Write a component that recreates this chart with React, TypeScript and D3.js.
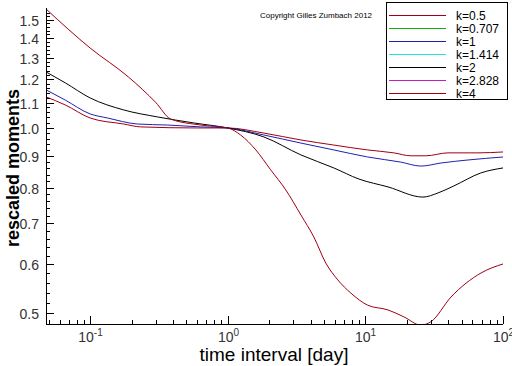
import * as d3 from 'd3';

// time interval [day] and rescaled moment values
const k05T = [0.048, 0.066, 0.1, 0.175, 0.233, 0.6, 1, 1.83, 3.4, 5.9, 10.4, 16.1, 21.4, 27.5, 39.8, 65.8, 100];
const k05V = [1.123, 1.09, 1.038, 1.015, 1.004, 1.0, 1.0, 0.981, 0.956, 0.938, 0.921, 0.911, 0.901, 0.901, 0.911, 0.911, 0.914];

const k1T = [0.048, 0.066, 0.1, 0.134, 0.22, 0.366, 0.637, 1, 1.83, 3.4, 5.9, 10.4, 18.1, 25.3, 35.4, 55.6, 100];
const k1V = [1.153, 1.11, 1.054, 1.038, 1.015, 1.011, 1.004, 1.0, 0.974, 0.945, 0.921, 0.897, 0.88, 0.867, 0.877, 0.887, 0.897];

const k2T = [0.048, 0.066, 0.1, 0.175, 0.31, 0.566, 1, 1.83, 3.4, 5.9, 8.97, 14.6, 26.2, 33.7, 44, 69, 100];
const k2V = [1.233, 1.184, 1.119, 1.07, 1.042, 1.019, 1.0, 0.967, 0.904, 0.861, 0.826, 0.802, 0.772, 0.784, 0.805, 0.845, 0.861];

const k4T = [0.048, 0.1, 0.19, 0.3, 0.385, 0.637, 1, 1.24, 1.6, 2.05, 2.64, 3.4, 4.22, 5.16, 6.31, 7.84, 10.4, 14.6, 19.05, 25.3, 29.9, 41.9, 69.2, 100];
const k4V = [1.56, 1.349, 1.21, 1.1, 1.034, 1.011, 1.0, 0.974, 0.921, 0.855, 0.793, 0.722, 0.665, 0.603, 0.566, 0.539, 0.515, 0.506, 0.493, 0.478, 0.484, 0.531, 0.581, 0.601];

const legendLabels = ['k=0.5', 'k=0.707', 'k=1', 'k=1.414', 'k=2', 'k=2.828', 'k=4'];
const legendColors = ['#a00010', '#10b010', '#2020b0', '#20e0e0', '#000000', '#c020c0', '#a00010'];

const yTickLabels = ['0.5', '0.6', '0.7', '0.8', '0.9', '1.0', '1.1', '1.2', '1.3', '1.4', '1.5'];
const xTickExps = ['-1', '0', '1', '2'];

const series = [
  { t: k05T, v: k05V, color: '#a00010' },
  { t: k1T, v: k1V, color: '#2020b0' },
  { t: k2T, v: k2V, color: '#000000' },
  { t: k4T, v: k4V, color: '#a00010' },
];

const W = 512;
const H = 366;
const plot = { left: 46, right: 503, top: 8, bottom: 324 };
const font = '"Liberation Sans", Arial, sans-serif';

export default function App() {
  const x = d3.scaleLog().domain([0.0478, 100]).range([plot.left, plot.right]);
  const y = d3.scaleLog().domain([0.48, 1.567]).range([plot.bottom, plot.top]);

  const line = d3
    .line<[number, number]>()
    .x((d) => x(d[0]))
    .y((d) => y(d[1]))
    .curve(d3.curveMonotoneX);

  const xMinor: number[] = [];
  for (let e = -2; e <= 1; e++) {
    for (let m = 2; m <= 9; m++) {
      const v = m * Math.pow(10, e);
      if (v >= 0.0478 && v <= 100) xMinor.push(v);
    }
  }
  const yMinor: number[] = [];
  for (let v = 0.5; v <= 1.56; v += 0.02) yMinor.push(+v.toFixed(2));

  return (
    <svg
      width={W}
      height={H}
      style={{ position: 'absolute', left: 0, top: 0, background: '#fff' }}
      fontFamily={font}
    >
      <defs>
        <clipPath id="plotclip">
          <rect x={plot.left} y={plot.top - 2} width={plot.right - plot.left + 2} height={plot.bottom - plot.top + 2} />
        </clipPath>
      </defs>

      <g clipPath="url(#plotclip)">
        {series.map((s, i) => (
          <path
            key={i}
            d={line(s.t.map((t, j) => [t, s.v[j]] as [number, number])) || ''}
            fill="none"
            stroke={s.color}
            strokeWidth={1}
          />
        ))}
      </g>

      {/* axes */}
      <line x1={plot.left + 0.5} x2={plot.left + 0.5} y1={plot.top} y2={plot.bottom} stroke="#000" />
      <line x1={plot.left} x2={plot.right} y1={plot.bottom + 0.5} y2={plot.bottom + 0.5} stroke="#000" />

      {yMinor.map((v, i) => (
        <line key={'ym' + i} x1={plot.left} x2={plot.left + 4} y1={Math.round(y(v)) + 0.5} y2={Math.round(y(v)) + 0.5} stroke="#000" />
      ))}
      {yTickLabels.map((l) => {
        const py = Math.round(y(+l)) + 0.5;
        return (
          <g key={'y' + l}>
            <line x1={plot.left} x2={plot.left + 8} y1={py} y2={py} stroke="#000" />
            <text x={39} y={py + 5} textAnchor="end" fontSize={14} fill="#333">
              {l}
            </text>
          </g>
        );
      })}

      {xMinor.map((v, i) => (
        <line key={'xm' + i} x1={Math.round(x(v)) + 0.5} x2={Math.round(x(v)) + 0.5} y1={plot.bottom} y2={plot.bottom - 4} stroke="#000" />
      ))}
      {xTickExps.map((e) => {
        const px = Math.round(x(Math.pow(10, +e))) + 0.5;
        return (
          <g key={'x' + e}>
            <line x1={px} x2={px} y1={plot.bottom} y2={plot.bottom - 8} stroke="#000" />
            <text x={px} y={342} textAnchor="middle" fontSize={14} fill="#333">
              10
              <tspan dy={-6} fontSize={10}>
                {e}
              </tspan>
            </text>
          </g>
        );
      })}

      <text x={274} y={361} textAnchor="middle" fontSize={19} fill="#000">
        time interval [day]
      </text>
      <text
        transform="translate(19,168) rotate(-90)"
        textAnchor="middle"
        fontSize={18}
        fontWeight="bold"
        fill="#000"
      >
        rescaled moments
      </text>

      <text x={316} y={18} textAnchor="middle" fontSize={8} fill="#000">
        Copyright Gilles Zumbach 2012
      </text>

      {/* legend */}
      <rect x={386.5} y={2.5} width={121} height={97} fill="#fff" stroke="#000" />
      {legendLabels.map((l, i) => {
        const ly = 15.5 + i * 13;
        return (
          <g key={l}>
            <line x1={389} x2={446} y1={ly} y2={ly} stroke={legendColors[i]} />
            <text x={456} y={ly + 4} fontSize={12} fill="#000">
              {l}
            </text>
          </g>
        );
      })}
    </svg>
  );
}
